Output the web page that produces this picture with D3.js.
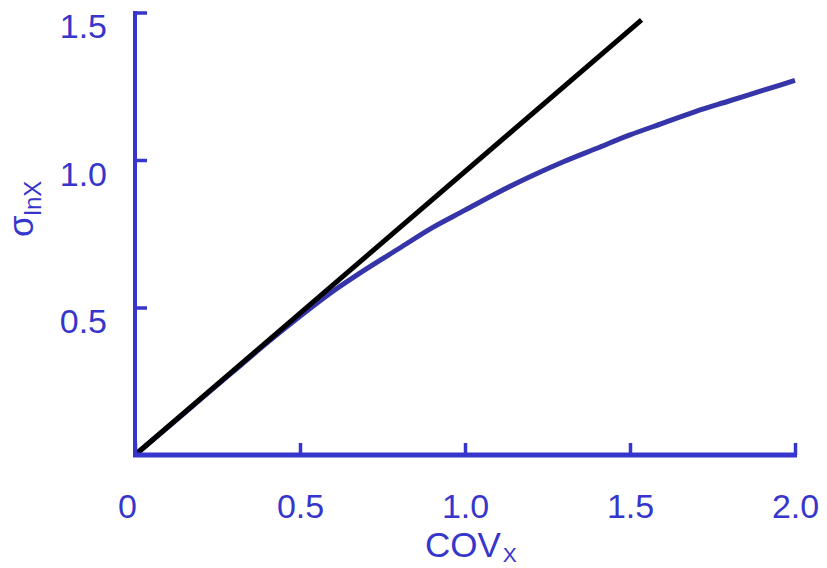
<!DOCTYPE html>
<html>
<head>
<meta charset="utf-8">
<script src="https://cdn.jsdelivr.net/npm/d3@7"></script>
<style>
  body { margin: 0; background: #fff; }
  svg { display: block; font-family: "Liberation Sans", Arial, sans-serif; }
</style>
</head>
<body>
<svg id="chart" width="827" height="568"></svg>
<script>
// Data
const covX = [0, 0.1, 0.2, 0.3, 0.4, 0.5, 0.6, 0.7, 0.8, 0.9, 1.0,
              1.1, 1.2, 1.3, 1.4, 1.5, 1.6, 1.7, 1.8, 1.9, 2.0];
const sigmaLnX = [0, 0.095, 0.19, 0.285, 0.38, 0.47, 0.555, 0.63, 0.70, 0.77, 0.83,
                  0.89, 0.945, 0.995, 1.04, 1.085, 1.125, 1.165, 1.20, 1.235, 1.27];
const refLineX = [0, 1.535];
const refLineY = [0, 1.475];
const xTicks = [0, 0.5, 1.0, 1.5, 2.0];
const xTickLabels = ["0", "0.5", "1.0", "1.5", "2.0"];
const yTicks = [0.5, 1.0, 1.5];
const yTickLabels = ["0.5", "1.0", "1.5"];

const axisColor = "#3636cc";
const curveColor = "#3535a9";
const fontSize = 34;

const svg = d3.select("#chart");

const x = d3.scaleLinear().domain([0, 2]).range([135, 795]);
const y = d3.scaleLinear().domain([0, 1.5]).range([455, 12.5]);

// curve and reference line
const line = d3.line().x(d => x(d[0])).y(d => y(d[1]));

svg.append("path")
    .datum(covX.map((v, i) => [v, sigmaLnX[i]]))
    .attr("fill", "none")
    .attr("stroke", curveColor)
    .attr("stroke-width", 5)
    .attr("d", line.curve(d3.curveMonotoneX));

svg.append("path")
    .datum(refLineX.map((v, i) => [v, refLineY[i]]))
    .attr("fill", "none")
    .attr("stroke", "#000")
    .attr("stroke-width", 5)
    .attr("d", line.curve(d3.curveLinear));

// y axis
const yAxis = svg.append("g")
    .attr("transform", `translate(${x(0)},0)`)
    .call(d3.axisLeft(y)
        .tickValues(yTicks)
        .tickFormat((d, i) => yTickLabels[i])
        .tickSize(-12)
        .tickSizeOuter(0)
        .tickPadding(28));
yAxis.select(".domain")
    .attr("d", `M0,${y(1.5) - 1.5}V${y(0) + 2}`)
    .attr("stroke", axisColor)
    .attr("stroke-width", 4);
yAxis.selectAll(".tick line")
    .attr("stroke", axisColor)
    .attr("stroke-width", 3.5);
yAxis.selectAll(".tick text")
    .attr("fill", axisColor)
    .attr("font-size", fontSize)
    .attr("font-family", "Liberation Sans, Arial, sans-serif")
    .attr("dy", 25);

// x axis
const xAxis = svg.append("g")
    .attr("transform", `translate(0,${y(0)})`)
    .call(d3.axisBottom(x)
        .tickValues(xTicks)
        .tickFormat((d, i) => xTickLabels[i])
        .tickSize(-12)
        .tickSizeOuter(0));
xAxis.select(".domain")
    .attr("d", `M${x(0) - 2},0H${x(2) + 2}`)
    .attr("stroke", axisColor)
    .attr("stroke-width", 5);
xAxis.selectAll(".tick line")
    .attr("stroke", axisColor)
    .attr("stroke-width", 3.5);
xAxis.selectAll(".tick text")
    .attr("fill", axisColor)
    .attr("font-size", fontSize)
    .attr("font-family", "Liberation Sans, Arial, sans-serif")
    .attr("y", 63)
    .attr("dy", 0)
    .attr("dx", d => d === 0 ? -8 : 0);

// axis titles
const xTitle = svg.append("text")
    .attr("x", 425)
    .attr("y", 557)
    .attr("fill", axisColor)
    .attr("font-size", 35);
xTitle.append("tspan").text("COV");
xTitle.append("tspan").attr("font-size", 21).attr("dy", 5).attr("dx", 2).text("X");

const yTitle = svg.append("text")
    .attr("transform", "translate(33,237) rotate(-90)")
    .attr("fill", axisColor)
    .attr("font-size", 35);
yTitle.append("tspan").text("σ");
yTitle.append("tspan").attr("font-size", 24).attr("dy", 8).text("lnX");
</script>
</body>
</html>
